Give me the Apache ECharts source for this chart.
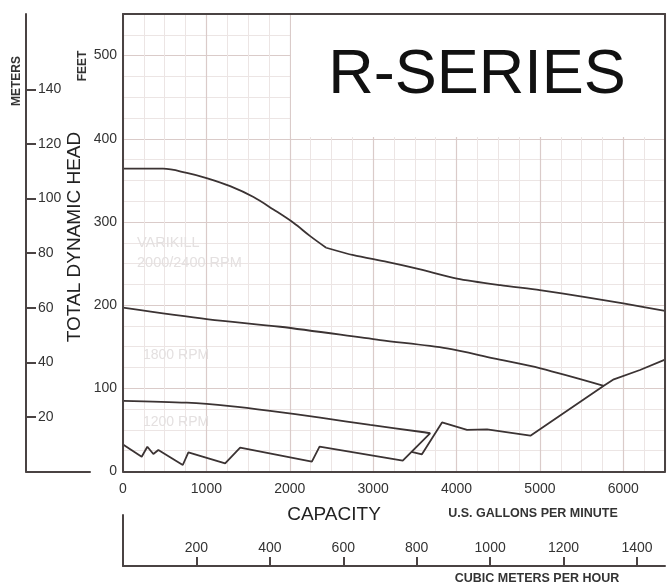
<!DOCTYPE html>
<html><head><meta charset="utf-8">
<script src="https://cdn.jsdelivr.net/npm/echarts@6/dist/echarts.min.js"></script>
<style>html,body{margin:0;padding:0;background:#fff}#c{width:668px;height:584px}</style>
</head><body><div id="c"></div>
<script>
const FONT = "'Liberation Sans', Arial, Helvetica, sans-serif";

// ---- data (x = U.S. gallons per minute, y = total dynamic head in feet) ----
const gpmTicks = [0, 1000, 2000, 3000, 4000, 5000, 6000];
const feetTicks = [0, 100, 200, 300, 400, 500];
const meterTicks = [20, 40, 60, 80, 100, 120, 140];
const cmhTicks = [200, 400, 600, 800, 1000, 1200, 1400];

const curveVarikill = [[0,364],[480,364],[765,359],[1012,352.5],[1285,343],[1565,330],[1804,315],[2044,299],[2245,283],[2437,269],[2765,260],[3166,252],[3565,243],[4006,232],[4526,224],[4998,218],[5526,210],[6000,202],[6500,193]];
const varikillKnee = 9; // index of the sharp bend in the VARIKILL curve
const curve1800 = [[0,197],[1024,183],[1885,174],[3085,158],[3886,148],[4445,136],[5006,124],[5766,103]];
const curve1200 = [[0,85],[765,82.7],[1285,78.7],[1765,73],[2365,64.7],[2965,56],[3565,47.8],[3685,46]];
const systemLow = [[0,32.5],[224,17.8],[292,29.8],[364,21],[424,25.8],[717,7.8],[784,23.1],[1225,9.9],[1405,28.6],[2265,11.8],[2357,29.8],[3355,13],[3685,46]];
const systemHigh = [[3460,23.5],[3585,20.7],[3826,59],[4126,50],[4366,50.7],[4886,43],[5766,103],[5886,110.8],[6200,122],[6500,134.5]];

const GPM_MAX = 6500, FT_MAX = 550;
const CMH_MAX = GPM_MAX / 4.40287;
const M_MAX = FT_MAX * 0.3048;

const AXIS_COL = '#4a4343';
const MINOR = '#ece5e4', MAJOR = '#dacbc9';
const LINE_COL = '#3b3333';

const hidden = { axisLine:{show:false}, axisTick:{show:false}, axisLabel:{show:false} };
const lineOnly = (pos, extra) => Object.assign({
  position: pos, z: 10,
  axisLine:{show:true, onZero:false, lineStyle:{color:AXIS_COL, width:2}},
  axisTick:{show:false}, axisLabel:{show:false}, splitLine:{show:false}
}, extra || {});
const plain = v => String(v);

const chart = echarts.init(document.getElementById('c'), null, {renderer:'canvas'});

const lineSeries = (name, data, extra) => Object.assign({
  name, type:'line', data, xAxisIndex:2, yAxisIndex:2, symbol:'none',
  lineStyle:{color:LINE_COL, width:1.8}, silent:true, animation:false
}, extra || {});

const txt = (text, x, y, opts) => ({
  type:'text', z:100, x, y, rotation: (opts && opts.rot) || 0,
  style: {
    text, fill: (opts && opts.fill) || '#222',
    font: ((opts && opts.weight) || 'normal') + ' ' + ((opts && opts.size) || 12) + 'px ' + FONT,
    textAlign: (opts && opts.align) || 'center', textVerticalAlign:'middle'
  }
});

chart.setOption({
  animation:false,
  backgroundColor:'#fff',
  textStyle:{fontFamily:FONT},
  grid:[
    {left:123, right:3, top:14, height:457.5},
    {left:123, right:3, top:515, height:51},
    {left:26, width:64, top:14, height:457.5}
  ],
  xAxis:[
    Object.assign({gridIndex:0, type:'value', min:0, max:GPM_MAX, interval:250, position:'top', z:0,
      splitLine:{show:true, lineStyle:{color:MINOR, width:1}}}, hidden),
    Object.assign({gridIndex:0, type:'value', min:0, max:GPM_MAX, interval:1000, position:'top', z:0,
      splitLine:{show:true, lineStyle:{color:MAJOR, width:1.2}}}, hidden),
    lineOnly('bottom', {gridIndex:0, type:'value', min:0, max:GPM_MAX, interval:1000,
      axisLabel:{show:true, customValues:gpmTicks, margin:11, fontSize:14, color:'#333', fontFamily:FONT,
        formatter:v => (v <= 6000) ? plain(v) : ''}}),
    lineOnly('top', {gridIndex:0, type:'value', min:0, max:GPM_MAX}),
    lineOnly('bottom', {gridIndex:1, type:'value', min:0, max:CMH_MAX, interval:200,
      axisTick:{show:true, inside:true, length:9, customValues:cmhTicks, lineStyle:{color:AXIS_COL, width:2}},
      axisLabel:{show:true, inside:true, customValues:cmhTicks, margin:11, fontSize:14, color:'#333', fontFamily:FONT,
        formatter:v => (v > 0 && v <= 1400) ? plain(v) : ''}}),
    lineOnly('bottom', {gridIndex:2, type:'value', min:0, max:1})
  ],
  yAxis:[
    Object.assign({gridIndex:0, type:'value', min:0, max:FT_MAX, interval:25, position:'right', z:0,
      splitLine:{show:true, lineStyle:{color:MINOR, width:1}}}, hidden),
    Object.assign({gridIndex:0, type:'value', min:0, max:FT_MAX, interval:100, position:'right', z:0,
      splitLine:{show:true, lineStyle:{color:MAJOR, width:1.2}}}, hidden),
    lineOnly('left', {gridIndex:0, type:'value', min:0, max:FT_MAX, interval:100,
      axisLabel:{show:true, customValues:feetTicks, margin:6, fontSize:14, color:'#333', fontFamily:FONT,
        formatter:v => (v <= 500) ? plain(v) : ''}}),
    lineOnly('right', {gridIndex:0, type:'value', min:0, max:FT_MAX}),
    lineOnly('left', {gridIndex:1, type:'value', min:0, max:1}),
    lineOnly('left', {gridIndex:2, type:'value', min:0, max:M_MAX, interval:20,
      axisTick:{show:true, inside:true, length:10, customValues:meterTicks, lineStyle:{color:AXIS_COL, width:2}},
      axisLabel:{show:true, inside:true, customValues:meterTicks, margin:12, fontSize:14, color:'#333', fontFamily:FONT,
        formatter:v => (v > 0 && v <= 140) ? plain(v) : ''}})
  ],
  series:[
    lineSeries('VARIKILL 2000/2400 RPM', curveVarikill.slice(0, varikillKnee + 1), {
      smooth:0.35,
      markArea:{silent:true, z:1, itemStyle:{color:'#ffffff', opacity:1, borderWidth:0},
        data:[[{coord:[2015, 402]}, {coord:[GPM_MAX, FT_MAX]}]]}
    }),
    lineSeries('VARIKILL 2000/2400 RPM (tail)', curveVarikill.slice(varikillKnee), {smooth:0.25}),
    lineSeries('1800 RPM', curve1800, {smooth:0.3}),
    lineSeries('1200 RPM', curve1200, {smooth:0.3}),
    lineSeries('System low', systemLow),
    lineSeries('System high', systemHigh)
  ],
  graphic:[
    txt('R-SERIES', 477, 76, {size:63, fill:'#111'}),
    txt('METERS', 17, 81, {size:12, weight:'bold', rot:Math.PI/2, fill:'#333'}),
    txt('FEET', 83, 66, {size:12, weight:'bold', rot:Math.PI/2, fill:'#333'}),
    txt('TOTAL DYNAMIC HEAD', 75, 237, {size:19, rot:Math.PI/2, fill:'#222'}),
    txt('CAPACITY', 334, 515, {size:19, fill:'#222'}),
    txt('U.S. GALLONS PER MINUTE', 533, 514, {size:12.5, weight:'bold', fill:'#333'}),
    txt('CUBIC METERS PER HOUR', 537, 579, {size:12.5, weight:'bold', fill:'#333'}),
    txt('VARIKILL', 137, 243, {size:14.5, align:'left', fill:'#e4e0e0'}),
    txt('2000/2400 RPM', 137, 262.5, {size:14.5, align:'left', fill:'#e4e0e0'}),
    txt('1800 RPM', 143, 355, {size:14, align:'left', fill:'#e4e0e0'}),
    txt('1200 RPM', 143, 422, {size:14, align:'left', fill:'#e4e0e0'})
  ]
});
</script>
</body></html>
